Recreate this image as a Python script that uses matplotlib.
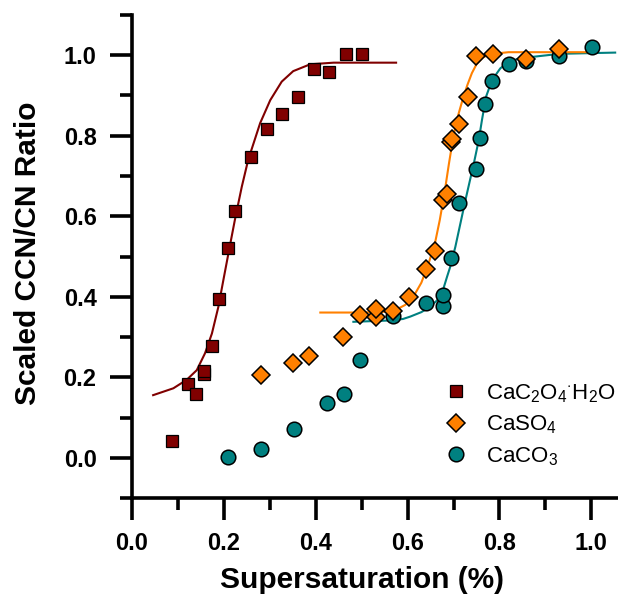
import matplotlib
matplotlib.use("Agg")
import matplotlib.pyplot as plt
from matplotlib.ticker import MultipleLocator

plt.rcParams['font.family'] = ['Liberation Sans', 'DejaVu Sans']
plt.rcParams['mathtext.fontset'] = 'custom'
plt.rcParams['mathtext.rm'] = 'Liberation Sans'
plt.rcParams['mathtext.it'] = 'Liberation Sans:italic'
plt.rcParams['mathtext.bf'] = 'Liberation Sans:bold'

# CaC2O4.H2O (squares)
ox_x = [0.088, 0.121, 0.139, 0.157, 0.157, 0.174, 0.190, 0.208, 0.224, 0.259,
        0.293, 0.327, 0.362, 0.397, 0.430, 0.465, 0.500]
ox_y = [0.042, 0.183, 0.160, 0.208, 0.217, 0.278, 0.394, 0.520, 0.613, 0.748,
        0.816, 0.853, 0.896, 0.965, 0.959, 1.002, 1.002]

# CaSO4 (diamonds)
so_x = [0.280, 0.350, 0.386, 0.459, 0.497, 0.532, 0.532, 0.568, 0.604, 0.641,
        0.659, 0.677, 0.685, 0.695, 0.697, 0.713, 0.731, 0.750, 0.786, 0.858, 0.930]
so_y = [0.206, 0.237, 0.254, 0.300, 0.355, 0.351, 0.369, 0.366, 0.399, 0.470,
        0.514, 0.640, 0.654, 0.785, 0.791, 0.829, 0.897, 0.998, 1.002, 0.990, 1.015]

# CaCO3 (circles)
co_x = [0.208, 0.281, 0.352, 0.424, 0.461, 0.497, 0.568, 0.641, 0.677, 0.677,
        0.695, 0.713, 0.750, 0.757, 0.768, 0.784, 0.821, 0.857, 0.930, 1.002]
co_y = [0.002, 0.022, 0.072, 0.137, 0.159, 0.243, 0.352, 0.385, 0.376, 0.405,
        0.496, 0.632, 0.716, 0.793, 0.878, 0.936, 0.978, 0.985, 0.998, 1.019]

# fitted curves
ox_fit_x = [0.046, 0.090, 0.119, 0.141, 0.159, 0.174, 0.188, 0.199, 0.210, 0.224,
            0.239, 0.253, 0.279, 0.301, 0.326, 0.351, 0.388, 0.439, 0.575]
ox_fit_y = [0.156, 0.173, 0.194, 0.218, 0.260, 0.309, 0.375, 0.442, 0.508, 0.591,
            0.673, 0.740, 0.831, 0.888, 0.934, 0.960, 0.977, 0.981, 0.981]

so_fit_x = [0.410, 0.500, 0.550, 0.575, 0.595, 0.615, 0.630, 0.645, 0.660, 0.670,
            0.680, 0.690, 0.700, 0.710, 0.720, 0.730, 0.740, 0.750, 0.765, 0.785,
            0.820, 1.000]
so_fit_y = [0.361, 0.361, 0.363, 0.368, 0.380, 0.405, 0.435, 0.480, 0.535, 0.590,
            0.655, 0.730, 0.800, 0.850, 0.890, 0.925, 0.955, 0.977, 0.995, 1.003,
            1.007, 1.007]

co_fit_x = [0.482, 0.555, 0.590, 0.606, 0.630, 0.649, 0.665, 0.675, 0.686, 0.693,
            0.704, 0.715, 0.726, 0.736, 0.745, 0.755, 0.762, 0.771, 0.784, 0.802,
            0.820, 0.845, 0.932, 1.052]
co_fit_y = [0.338, 0.341, 0.345, 0.351, 0.362, 0.375, 0.392, 0.409, 0.450, 0.475,
            0.524, 0.582, 0.640, 0.690, 0.735, 0.789, 0.839, 0.897, 0.938, 0.967,
            0.983, 0.992, 1.003, 1.006]

maroon = '#800000'
orange = '#FF8000'
teal = '#008080'

fig = plt.figure(figsize=(6.18, 6.03), dpi=100)
ax = fig.add_axes([0.2136, 0.1736, 0.7848, 0.802])

ax.plot(ox_fit_x, ox_fit_y, color=maroon, lw=1.5, zorder=2)
ax.plot(co_fit_x, co_fit_y, color=teal, lw=1.5, zorder=2)
ax.plot(so_fit_x, so_fit_y, color=orange, lw=1.5, zorder=2)

ax.plot(ox_x, ox_y, 's', ms=9, mfc=maroon, mec='black', mew=0.9, ls='none', zorder=3,
        label=r'CaC$_2$O$_4$$^{\cdot}$H$_2$O')
ax.plot(so_x, so_y, 'D', ms=9, mfc=orange, mec='black', mew=1.1, ls='none', zorder=4,
        label=r'CaSO$_4$')
ax.plot(co_x, co_y, 'o', ms=10.5, mfc=teal, mec='black', mew=1.1, ls='none', zorder=3,
        label=r'CaCO$_3$')

h, l = ax.get_legend_handles_labels()
ax.legend(h, l, loc='upper left', bbox_to_anchor=(0.604, 0.2815), frameon=False,
          fontsize=16, handlelength=1.0, handletextpad=0.85, labelspacing=0.4,
          borderpad=0.4)

ax.set_xlim(0, 1.056)
ax.set_ylim(-0.1, 1.1)
ax.xaxis.set_minor_locator(MultipleLocator(0.1))
ax.yaxis.set_minor_locator(MultipleLocator(0.1))
ax.set_xticks([0.0, 0.2, 0.4, 0.6, 0.8, 1.0])
ax.set_yticks([0.0, 0.2, 0.4, 0.6, 0.8, 1.0])
ax.xaxis.set_major_formatter(matplotlib.ticker.FormatStrFormatter('%.1f'))
ax.yaxis.set_major_formatter(matplotlib.ticker.FormatStrFormatter('%.1f'))

for s in ['top', 'right']:
    ax.spines[s].set_visible(False)
for s in ['left', 'bottom']:
    ax.spines[s].set_linewidth(2.6)

ax.tick_params(which='major', direction='out', length=16, width=2.6, labelsize=17)
ax.tick_params(which='minor', direction='out', length=8.5, width=2.6)
ax.tick_params(axis='x', which='major', pad=8)
ax.tick_params(axis='y', which='major', pad=9.5)
for t in ax.get_xticklabels() + ax.get_yticklabels():
    t.set_fontweight('bold')

ax.set_xlabel('Supersaturation (%)', fontsize=21.5, fontweight='bold')
ax.set_ylabel('Scaled CCN/CN Ratio', fontsize=21.5, fontweight='bold')
ax.xaxis.set_label_coords(0.474, -0.14)
ax.yaxis.set_label_coords(-0.186, 0.507)

fig.savefig('out.png', dpi=100)
